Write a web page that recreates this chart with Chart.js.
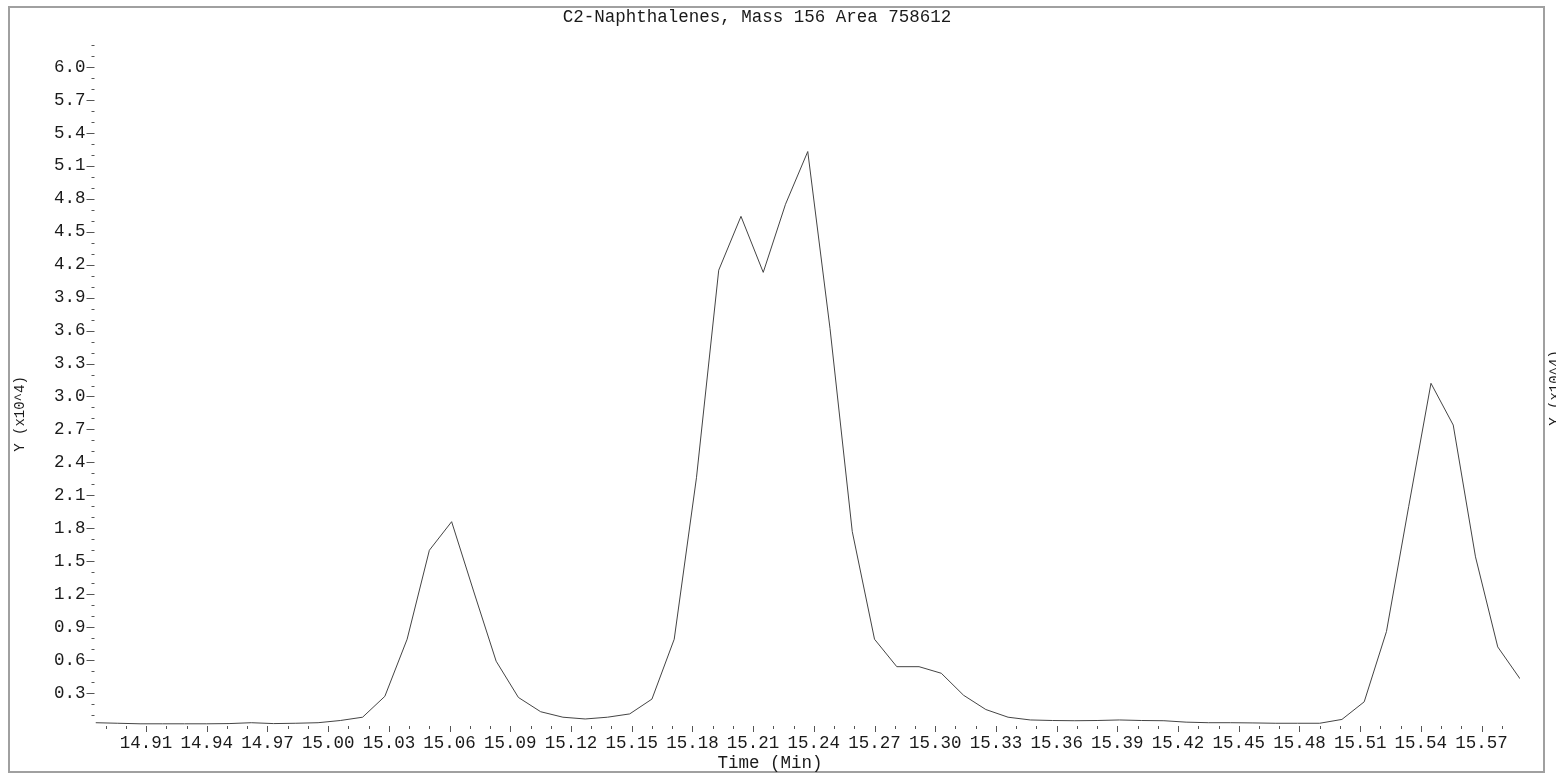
<!DOCTYPE html>
<html lang="en">
<head>
<meta charset="UTF-8">
<title>C2-Naphthalenes, Mass 156</title>
<script src="https://cdn.jsdelivr.net/npm/chart.js"></script>
<style>
  html, body { margin: 0; padding: 0; background: #fff; overflow: hidden; }
</style>
</head>
<body>
<canvas id="chart" width="1556" height="774"></canvas>
<script>
// scan times (min) and ion abundance for mass 156
const times = [
  14.885, 14.896, 14.907, 14.918, 14.929, 14.940, 14.951, 14.962, 14.973, 14.984,
  14.995, 15.006, 15.017, 15.028, 15.039, 15.050, 15.061, 15.072, 15.083, 15.094,
  15.105, 15.116, 15.127, 15.138, 15.149, 15.160, 15.171, 15.182, 15.193, 15.204,
  15.215, 15.226, 15.237, 15.248, 15.259, 15.270, 15.281, 15.292, 15.303, 15.314,
  15.325, 15.336, 15.347, 15.358, 15.369, 15.380, 15.391, 15.402, 15.413, 15.424,
  15.435, 15.446, 15.457, 15.468, 15.479, 15.490, 15.501, 15.512, 15.523, 15.534,
  15.545, 15.556, 15.567, 15.578, 15.589
];
const abundance = [
  300, 250, 200, 200, 200, 200, 220, 300, 220, 250,
  300, 500, 800, 2700, 7900, 16000, 18600, 12200, 5900, 2600,
  1300, 800, 640, 800, 1100, 2450, 7900, 22600, 41500, 46400,
  41300, 47500, 52300, 36200, 17700, 7900, 5400, 5400, 4800, 2800,
  1500, 800, 550, 500, 480, 500, 550, 500, 480, 350,
  300, 300, 280, 250, 250, 250, 600, 2200, 8600, 20000,
  31200, 27400, 15400, 7200, 4300
];
const xTickLabels = ['14.91', '14.94', '14.97', '15.00', '15.03', '15.06', '15.09', '15.12',
  '15.15', '15.18', '15.21', '15.24', '15.27', '15.30', '15.33', '15.36', '15.39', '15.42',
  '15.45', '15.48', '15.51', '15.54', '15.57'];
const yTickLabels = ['0.3', '0.6', '0.9', '1.2', '1.5', '1.8', '2.1', '2.4', '2.7', '3.0',
  '3.3', '3.6', '3.9', '4.2', '4.5', '4.8', '5.1', '5.4', '5.7', '6.0'];

const titleText = 'C2-Naphthalenes, Mass 156 Area 758612';
const xTitle = 'Time (Min)';
const yTitle = 'Y (x10^4)';

const monoFont = '"Liberation Mono", "DejaVu Sans Mono", monospace';
const fontSize = 17.5;
const textColor = '#1a1a1a';

// small tick marks, frame and titles
const frame = {
  id: 'frame',
  beforeDraw(chart) {
    const ctx = chart.ctx;
    ctx.save();
    ctx.fillStyle = '#fff';
    ctx.fillRect(0, 0, chart.width, chart.height);
    ctx.restore();
  },
  afterDraw(chart) {
    const { ctx, chartArea, scales: { x, y } } = chart;
    ctx.save();
    ctx.strokeStyle = '#555';
    ctx.lineWidth = 1;
    ctx.beginPath();
    x.ticks.forEach(t => {
      const px = Math.round(x.getPixelForValue(t.value)) + 0.5;
      const len = t.major ? 6 : 3;
      ctx.moveTo(px, chartArea.bottom);
      ctx.lineTo(px, chartArea.bottom + len);
    });
    y.ticks.forEach(t => {
      const py = Math.round(y.getPixelForValue(t.value)) + 0.5;
      const len = t.major ? 8 : 3;
      ctx.moveTo(chartArea.left - 1, py);
      ctx.lineTo(chartArea.left - 1 - len, py);
    });
    ctx.stroke();

    ctx.strokeStyle = '#a0a0a0';
    ctx.lineWidth = 2;
    ctx.strokeRect(9, 7, 1535, 765);

    ctx.fillStyle = textColor;
    ctx.font = fontSize + 'px ' + monoFont;
    ctx.textAlign = 'center';
    ctx.textBaseline = 'middle';
    ctx.fillText(titleText, 757, 17);
    ctx.fillText(xTitle, 770, 763);

    ctx.font = '14px ' + monoFont;
    ctx.save();
    ctx.translate(20, 414);
    ctx.rotate(-Math.PI / 2);
    ctx.fillText(yTitle, 0, 0);
    ctx.restore();

    ctx.save();
    ctx.translate(1555, 388);
    ctx.rotate(-Math.PI / 2);
    ctx.fillText(yTitle, 0, 0);
    ctx.restore();
    ctx.restore();
  }
};

new Chart(document.getElementById('chart'), {
  type: 'line',
  data: {
    datasets: [{
      data: times.map((t, i) => ({ x: t, y: abundance[i] })),
      borderColor: '#444',
      borderWidth: 1,
      pointRadius: 0,
      tension: 0,
      fill: false
    }]
  },
  options: {
    responsive: false,
    devicePixelRatio: 1,
    animation: false,
    layout: { padding: { left: 10, top: 45, right: 36, bottom: 8 } },
    plugins: { legend: { display: false }, title: { display: false }, tooltip: { enabled: false } },
    scales: {
      x: {
        type: 'linear',
        min: times[0],
        max: times[times.length - 1],
        border: { display: false },
        grid: { display: false, tickLength: 6 },
        afterBuildTicks: scale => {
          const ticks = [];
          for (let k = Math.ceil(scale.min * 100); k <= Math.floor(scale.max * 100); k++) {
            const v = k / 100;
            ticks.push({ value: v, major: xTickLabels.includes(v.toFixed(2)) });
          }
          scale.ticks = ticks;
        },
        afterFit: scale => { scale.height = 40; },
        ticks: {
          autoSkip: false,
          maxRotation: 0,
          padding: 1,
          color: textColor,
          font: { family: monoFont, size: fontSize },
          callback: v => xTickLabels.includes(v.toFixed(2)) ? v.toFixed(2) : ''
        }
      },
      y: {
        min: 0,
        max: 62000,
        border: { display: false },
        grid: { display: false, tickLength: 8 },
        afterBuildTicks: scale => {
          const ticks = [];
          for (let v = 1000; v <= scale.max; v += 1000) {
            ticks.push({ value: v, major: yTickLabels.includes((v / 10000).toFixed(1)) });
          }
          scale.ticks = ticks;
        },
        afterFit: scale => { scale.width = 85.5; },
        ticks: {
          autoSkip: false,
          padding: 2,
          color: textColor,
          font: { family: monoFont, size: fontSize },
          callback: v => yTickLabels.includes((v / 10000).toFixed(1)) ? (v / 10000).toFixed(1) : ''
        }
      }
    }
  },
  plugins: [frame]
});
</script>
</body>
</html>
